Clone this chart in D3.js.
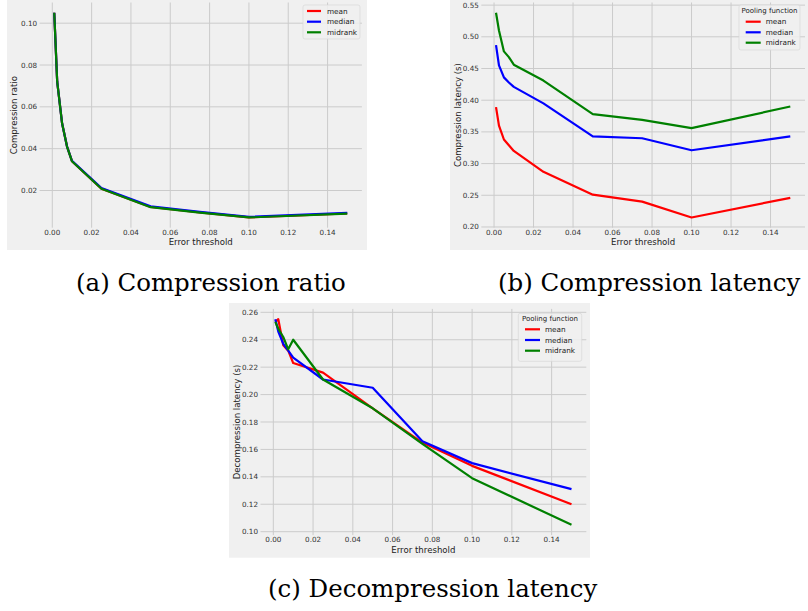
<!DOCTYPE html>
<html>
<head>
<meta charset="utf-8">
<script src="https://cdn.jsdelivr.net/npm/d3@7"></script>
<style>
  body { margin: 0; background: #fff; }
  svg { display: block; }
</style>
</head>
<body>
<svg width="808" height="611"></svg>
<script>
const thresholds = [0.001, 0.0025, 0.005, 0.0075, 0.01, 0.025, 0.05, 0.075, 0.1, 0.15];
const poolNames = ["mean", "median", "midrank"];
const poolColors = ["#ff0000", "#0000ff", "#008000"];

const ratioMean    = [0.105, 0.072, 0.052, 0.041, 0.0340, 0.0209, 0.0121, 0.0095, 0.0071, 0.0090];
const ratioMedian  = [0.105, 0.072, 0.052, 0.041, 0.0342, 0.0212, 0.0124, 0.0098, 0.0074, 0.0093];
const ratioMidrank = [0.105, 0.072, 0.052, 0.041, 0.0340, 0.0208, 0.0120, 0.0094, 0.0071, 0.0089];

const compMean    = [0.389, 0.360, 0.338, 0.329, 0.320, 0.287, 0.251, 0.240, 0.215, 0.246];
const compMedian  = [0.487, 0.455, 0.436, 0.428, 0.421, 0.395, 0.343, 0.340, 0.321, 0.343];
const compMidrank = [0.538, 0.510, 0.477, 0.468, 0.456, 0.431, 0.378, 0.369, 0.356, 0.390];

const decompMean    = [0.253, 0.255, 0.236, 0.232, 0.223, 0.216, 0.190, 0.165, 0.148, 0.120];
const decompMedian  = [0.255, 0.246, 0.237, 0.232, 0.227, 0.211, 0.205, 0.166, 0.150, 0.131];
const decompMidrank = [0.253, 0.248, 0.242, 0.233, 0.240, 0.211, 0.190, 0.164, 0.139, 0.105];

const xTicks = [0, 0.02, 0.04, 0.06, 0.08, 0.10, 0.12, 0.14];
const ratioTicks = [0.02, 0.04, 0.06, 0.08, 0.10];
const compTicks = [0.20, 0.25, 0.30, 0.35, 0.40, 0.45, 0.50, 0.55];
const decompTicks = [0.10, 0.12, 0.14, 0.16, 0.18, 0.20, 0.22, 0.24, 0.26];

const svg = d3.select("svg");

// matplotlib style autoscale: 5% margin on each side
function padded(values) {
  const [lo, hi] = d3.extent(values);
  const m = (hi - lo) * 0.05;
  return [lo - m, hi + m];
}

function drawPanel(cfg) {
  const g = svg.append("g");

  g.append("rect")
    .attr("x", cfg.bg[0]).attr("y", cfg.bg[1])
    .attr("width", cfg.bg[2] - cfg.bg[0]).attr("height", cfg.bg[3] - cfg.bg[1])
    .attr("fill", "#f0f0f0");

  const [left, top, right, bottom] = cfg.plot;

  const x = d3.scaleLinear().domain(padded(thresholds)).range([left, right]);
  const y = d3.scaleLinear().domain(padded(cfg.series.flat())).range([bottom, top]);

  g.selectAll(".gx").data(xTicks).enter().append("line")
    .attr("x1", d => x(d)).attr("x2", d => x(d))
    .attr("y1", top).attr("y2", bottom)
    .attr("stroke", "#cbcbcb").attr("stroke-width", 1);

  g.selectAll(".gy").data(cfg.yTicks).enter().append("line")
    .attr("x1", left).attr("x2", right)
    .attr("y1", d => y(d)).attr("y2", d => y(d))
    .attr("stroke", "#cbcbcb").attr("stroke-width", 1);

  g.selectAll(".tx").data(xTicks).enter().append("text")
    .attr("x", d => x(d)).attr("y", bottom + 7.2)
    .attr("text-anchor", "middle")
    .style("font", "7.2px 'DejaVu Sans'").attr("fill", "#333")
    .text(d3.format(".2f"));

  g.selectAll(".ty").data(cfg.yTicks).enter().append("text")
    .attr("x", left - 2.5).attr("y", d => y(d)).attr("dy", "0.35em")
    .attr("text-anchor", "end")
    .style("font", "7.2px 'DejaVu Sans'").attr("fill", "#333")
    .text(d3.format(".2f"));

  g.append("text")
    .attr("x", (left + right) / 2).attr("y", bottom + 17.6)
    .attr("text-anchor", "middle")
    .style("font", "8.6px 'DejaVu Sans'").attr("fill", "#222")
    .text("Error threshold");

  g.append("text")
    .attr("transform", `translate(${cfg.yLabelX},${(top + bottom) / 2}) rotate(-90)`)
    .attr("dy", "0.35em")
    .attr("text-anchor", "middle")
    .style("font", "8.6px 'DejaVu Sans'").attr("fill", "#222")
    .text(cfg.yLabel);

  const line = d3.line()
    .x((d, i) => x(thresholds[i]))
    .y(d => y(d));

  g.selectAll(".series").data(cfg.series).enter().append("path")
    .attr("d", line)
    .attr("fill", "none")
    .attr("stroke", (d, i) => poolColors[i])
    .attr("stroke-width", 2.2)
    .attr("stroke-linejoin", "round");

  // legend
  const lg = cfg.legend;
  const leg = g.append("g").attr("transform", `translate(${lg.x},${lg.y})`);
  leg.append("rect")
    .attr("width", lg.w).attr("height", lg.h)
    .attr("rx", 2)
    .attr("fill", "#f0f0f0").attr("fill-opacity", 0.85)
    .attr("stroke", "#d8d8d8").attr("stroke-width", 0.7);
  if (lg.title) {
    leg.append("text")
      .attr("x", lg.w / 2).attr("y", lg.titleY).attr("dy", "0.35em")
      .attr("text-anchor", "middle")
      .style("font", "7px 'DejaVu Sans'").attr("fill", "#222")
      .text(lg.title);
  }
  poolNames.forEach((name, i) => {
    const ry = lg.rows[i];
    leg.append("line")
      .attr("x1", lg.lineX[0]).attr("x2", lg.lineX[1])
      .attr("y1", ry).attr("y2", ry)
      .attr("stroke", poolColors[i]).attr("stroke-width", 2.2);
    leg.append("text")
      .attr("x", lg.textX).attr("y", ry).attr("dy", "0.35em")
      .style("font", "7.3px 'DejaVu Sans'").attr("fill", "#222")
      .text(name);
  });
}

drawPanel({
  bg: [7, 0, 367, 250],
  plot: [39.6, 2.5, 361.9, 227.7],
  series: [ratioMean, ratioMedian, ratioMidrank],
  yTicks: ratioTicks,
  yLabel: "Compression ratio",
  yLabelX: 14.3,
  legend: { x: 303, y: 5, w: 57, h: 34, rows: [6, 16.7, 27.3], lineX: [4, 18], textX: 24 }
});

drawPanel({
  bg: [450, 0, 808, 250],
  plot: [481.3, 2.5, 805, 227.7],
  series: [compMean, compMedian, compMidrank],
  yTicks: compTicks,
  yLabel: "Compression latency (s)",
  yLabelX: 457.7,
  legend: { x: 739, y: 5, w: 61, h: 45, title: "Pooling function", titleY: 6,
            rows: [16.7, 27.3, 37.7], lineX: [6.7, 21.7], textX: 26.7 }
});

drawPanel({
  bg: [229, 303, 590, 557.7],
  plot: [260.5, 308.9, 586.3, 535.1],
  series: [decompMean, decompMedian, decompMidrank],
  yTicks: decompTicks,
  yLabel: "Decompression latency (s)",
  yLabelX: 236.7,
  legend: { x: 518.3, y: 313.3, w: 63.4, h: 48, title: "Pooling function", titleY: 5.5,
            rows: [16, 26.7, 37.4], lineX: [6.7, 21.7], textX: 26.7 }
});

// sub-figure captions
const captions = [
  { text: "(a) Compression ratio", x: 76, y: 291 },
  { text: "(b) Compression latency", x: 498, y: 291 },
  { text: "(c) Decompression latency", x: 268, y: 597 }
];
const capText = svg.selectAll(".cap").data(captions).enter().append("text")
  .attr("x", d => d.x).attr("y", d => d.y)
  .style("font-family", "'DejaVu Serif'")
  .style("font-size", "22px")
  .attr("fill", "#000")
  .text(d => d.text);

// size the captions so that (a) spans its measured width
const natural = capText.node().getComputedTextLength();
capText.style("font-size", (22 * 270 / natural) + "px");
</script>
</body>
</html>
